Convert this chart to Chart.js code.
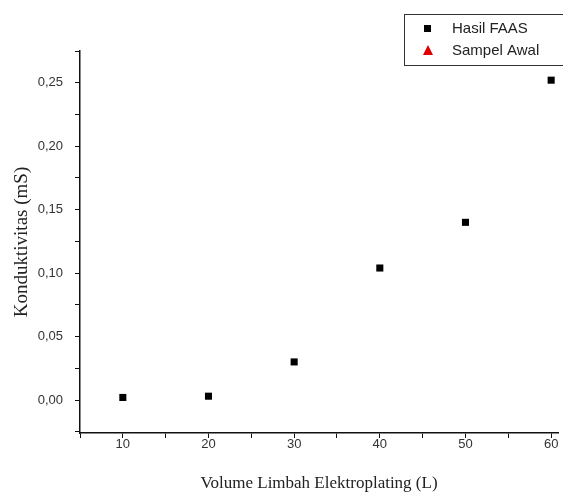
<!DOCTYPE html>
<html>
<head>
<meta charset="utf-8">
<script src="https://cdn.jsdelivr.net/npm/chart.js@4"></script>
<style>
  html, body { margin: 0; padding: 0; background: #fff; overflow: hidden; }
  #wrap { width: 563px; height: 493px; }
</style>
</head>
<body>
<div id="wrap"><canvas id="myChart" width="563" height="493"></canvas></div>
<script>
// volume (L) vs conductivity (mS)
const volumes = [10, 20, 30, 40, 50, 60];
const hasilFaas = [0.002, 0.003, 0.030, 0.104, 0.140, 0.252];
const sampelAwal = [];
const xTickLabels = [10, 20, 30, 40, 50, 60];
const yTickLabels = [0, 0.05, 0.10, 0.15, 0.20, 0.25];

const ctx = document.getElementById('myChart').getContext('2d');

// major + minor (midpoint) ticks, kept inside the axis range
function withMinor(vals, lo, hi) {
    const out = [];
    const step = vals[1] - vals[0];
    out.push(vals[0] - step / 2);
    vals.forEach(v => { out.push(v); out.push(v + step / 2); });
    return out.filter(v => v >= lo - 1e-9 && v <= hi + 1e-9);
}

const legendBox = {
    id: 'legendBox',
    afterDraw(chart) {
        const c = chart.ctx;
        c.save();
        c.strokeStyle = '#333';
        c.lineWidth = 1;
        c.fillStyle = '#fff';
        c.fillRect(404.5, 14.5, 170, 51);
        c.strokeRect(404.5, 14.5, 170, 51);
        c.font = '15px "Liberation Sans", Arial, sans-serif';
        c.textBaseline = 'middle';
        c.fillStyle = '#000';
        c.fillRect(424, 25, 7, 7);
        c.fillStyle = '#222';
        c.fillText(chart.data.datasets[0].label, 452, 29);
        c.fillStyle = '#e00000';
        c.beginPath();
        c.moveTo(428, 45);
        c.lineTo(433, 55);
        c.lineTo(423, 55);
        c.closePath();
        c.fill();
        c.fillStyle = '#222';
        c.fillText(chart.data.datasets[1].label, 452, 51);
        c.restore();
    }
};

const tickFont = { family: '"Liberation Sans", Arial, sans-serif', size: 13 };
const X_MIN = 5, X_MAX = 60.8, Y_MIN = -0.026, Y_MAX = 0.275;

new Chart(ctx, {
    type: 'scatter',
    data: {
        datasets: [{
            label: 'Hasil FAAS',
            data: volumes.map((v, i) => ({ x: v, y: hasilFaas[i] })),
            pointStyle: 'rect',
            pointRadius: 5,
            backgroundColor: '#000',
            borderColor: '#000',
            borderWidth: 0
        }, {
            label: 'Sampel Awal',
            data: sampelAwal,
            pointStyle: 'triangle',
            pointRadius: 6,
            backgroundColor: '#e00000',
            borderColor: '#e00000'
        }]
    },
    options: {
        responsive: false,
        animation: false,
        layout: { padding: { top: 51, right: 0, left: 0, bottom: 0 } },
        plugins: {
            legend: { display: false },
            tooltip: { enabled: false }
        },
        scales: {
            x: {
                type: 'linear',
                min: X_MIN,
                max: X_MAX,
                afterBuildTicks: axis => {
                    axis.ticks = withMinor(xTickLabels, X_MIN, X_MAX).map(v => ({ value: v }));
                },
                afterFit: axis => {
                    axis.height = 60;
                    axis.paddingRight = 0;
                    axis.paddingLeft = 0;
                },
                border: { display: true, color: '#111', width: 1.5 },
                grid: {
                    drawOnChartArea: false,
                    drawTicks: true,
                    tickLength: 5,
                    color: '#111'
                },
                ticks: {
                    autoSkip: false,
                    maxRotation: 0,
                    padding: -1,
                    color: '#333',
                    font: tickFont,
                    callback: v => xTickLabels.includes(v) ? String(v) : ''
                },
                title: {
                    display: true,
                    text: 'Volume Limbah Elektroplating (L)',
                    color: '#222',
                    font: { family: '"Liberation Serif", "Times New Roman", serif', size: 17 },
                    padding: { top: 4, bottom: -1 }
                }
            },
            y: {
                type: 'linear',
                min: Y_MIN,
                max: Y_MAX,
                afterBuildTicks: axis => {
                    axis.ticks = withMinor(yTickLabels, Y_MIN, Y_MAX).map(v => ({ value: v }));
                },
                afterFit: axis => { axis.width = 80; },
                border: { display: true, color: '#111', width: 1.5 },
                grid: {
                    drawOnChartArea: false,
                    drawTicks: true,
                    tickLength: 5,
                    color: '#111'
                },
                ticks: {
                    autoSkip: false,
                    padding: 12,
                    color: '#333',
                    font: tickFont,
                    callback: v => {
                        const hit = yTickLabels.find(t => Math.abs(t - v) < 1e-9);
                        return hit === undefined ? '' : hit.toFixed(2).replace('.', ',');
                    }
                },
                title: {
                    display: true,
                    text: 'Konduktivitas (mS)',
                    color: '#222',
                    font: { family: '"Liberation Serif", "Times New Roman", serif', size: 19 },
                    padding: { top: 11 }
                }
            }
        }
    },
    plugins: [legendBox]
});
</script>
</body>
</html>
